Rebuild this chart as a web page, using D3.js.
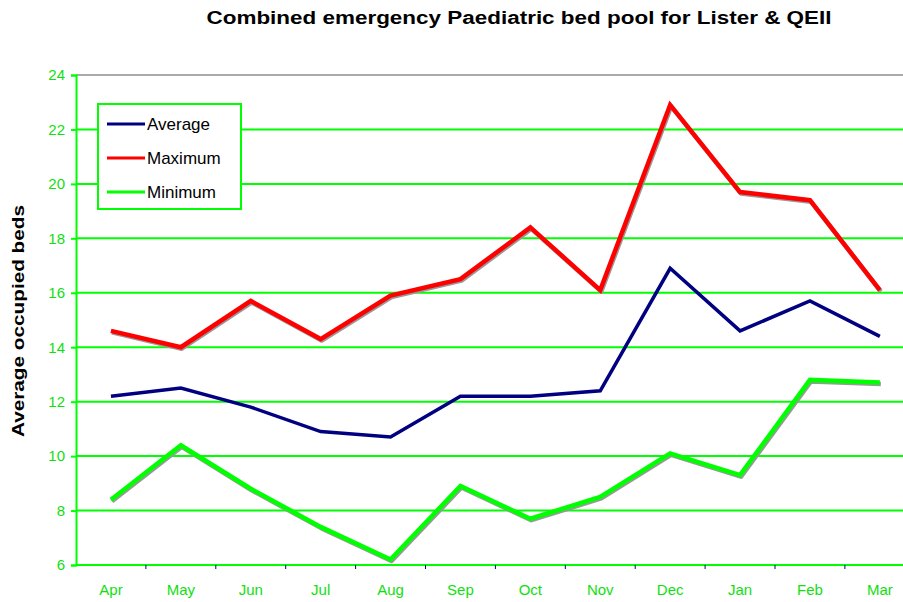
<!DOCTYPE html>
<html lang="en">
<head>
    <meta charset="UTF-8">
    <title>Combined emergency Paediatric bed pool</title>
    <style>
        body { margin: 0; background: #ffffff; }
        svg { display: block; font-family: Arial, "Liberation Sans", sans-serif; }
        .tick-label { fill: #10e010; font-size: 15px; }
    </style>
</head>
<body>
    <script src="https://d3js.org/d3.v7.min.js"></script>
    <script>
        const width = 903;
        const height = 602;

        const months = ["Apr", "May", "Jun", "Jul", "Aug", "Sep", "Oct", "Nov", "Dec", "Jan", "Feb", "Mar"];
        const average = [12.2, 12.5, 11.8, 10.9, 10.7, 12.2, 12.2, 12.4, 16.9, 14.6, 15.7, 14.4];
        const maximum = [14.6, 14.0, 15.7, 14.3, 15.9, 16.5, 18.4, 16.1, 22.9, 19.7, 19.4, 16.1];
        const minimum = [8.4, 10.4, 8.8, 7.4, 6.2, 8.9, 7.7, 8.5, 10.1, 9.3, 12.8, 12.7];
        const yTicks = [6, 8, 10, 12, 14, 16, 18, 20, 22, 24];

        const series = [
            { name: "Average", values: average, color: "#000080", width: 3.5, shadow: false },
            { name: "Maximum", values: maximum, color: "#ff0000", width: 4.5, shadow: true },
            { name: "Minimum", values: minimum, color: "#00ff00", width: 4.5, shadow: true }
        ];

        const plotLeft = 76, plotTop = 75, plotBottom = 565;

        const svg = d3.select("body").append("svg")
            .attr("width", width)
            .attr("height", height);

        const x = d3.scaleBand()
            .domain(months)
            .range([plotLeft, plotLeft + 12 * 69.9]);

        const y = d3.scaleLinear()
            .domain([6, 24])
            .range([plotBottom, plotTop]);

        // gridlines
        svg.append("g")
            .selectAll("line")
            .data(yTicks)
            .enter()
            .append("line")
            .attr("x1", plotLeft)
            .attr("x2", width)
            .attr("y1", d => y(d))
            .attr("y2", d => y(d))
            .style("stroke", d => d === 24 ? "#aaaaaa" : "#00ff00")
            .style("stroke-width", 2);

        // y axis
        const yAxis = svg.append("g")
            .attr("transform", `translate(${plotLeft},0)`)
            .call(d3.axisLeft(y).tickValues(yTicks).tickSize(5).tickPadding(6));
        yAxis.select(".domain").style("stroke", "#00ff00").style("stroke-width", 2);
        yAxis.selectAll(".tick line").style("stroke", "#00ff00").style("stroke-width", 2);
        yAxis.selectAll(".tick text").attr("class", "tick-label").attr("font-family", null).attr("font-size", null);

        // x axis
        const xAxis = svg.append("g")
            .attr("transform", `translate(0,${plotBottom})`)
            .call(d3.axisBottom(x).tickSize(0).tickPadding(19));
        xAxis.select(".domain").remove();
        xAxis.selectAll(".tick text").attr("class", "tick-label").attr("font-family", null).attr("font-size", null);

        svg.append("line")
            .attr("x1", plotLeft).attr("x2", width)
            .attr("y1", plotBottom).attr("y2", plotBottom)
            .style("stroke", "#00ff00").style("stroke-width", 2);

        svg.append("g")
            .selectAll("line")
            .data(months.slice(1))
            .enter()
            .append("line")
            .attr("x1", d => x(d)).attr("x2", d => x(d))
            .attr("y1", plotBottom).attr("y2", plotBottom + 4)
            .style("stroke", "#000080")
            .style("stroke-width", 1);

        // lines
        const line = d3.line()
            .x((d, i) => x(months[i]) + x.bandwidth() / 2)
            .y(d => y(d));

        series.forEach(s => {
            if (s.shadow) {
                svg.append("path")
                    .datum(s.values)
                    .attr("d", line)
                    .attr("transform", "translate(1,1.5)")
                    .style("fill", "none")
                    .style("stroke", "#999999")
                    .style("stroke-width", s.width)
                    .style("stroke-linejoin", "round");
            }
            svg.append("path")
                .datum(s.values)
                .attr("d", line)
                .style("fill", "none")
                .style("stroke", s.color)
                .style("stroke-width", s.width)
                .style("stroke-linejoin", "miter");
        });

        // legend
        const legend = svg.append("g");
        legend.append("rect")
            .attr("x", 98).attr("y", 104)
            .attr("width", 143).attr("height", 105)
            .style("fill", "#ffffff")
            .style("stroke", "#00ff00")
            .style("stroke-width", 2);

        const rowY = [124, 158, 192];
        series.forEach((s, i) => {
            legend.append("line")
                .attr("x1", 107).attr("x2", 145)
                .attr("y1", rowY[i]).attr("y2", rowY[i])
                .style("stroke", s.color)
                .style("stroke-width", 3);
            legend.append("text")
                .attr("x", 147)
                .attr("y", rowY[i] + 6)
                .style("font-size", "17px")
                .style("fill", "#000000")
                .text(s.name);
        });

        // title
        svg.append("text")
            .attr("x", 519)
            .attr("y", 24)
            .attr("text-anchor", "middle")
            .attr("textLength", 625)
            .attr("lengthAdjust", "spacingAndGlyphs")
            .style("font-size", "18px")
            .style("font-weight", "bold")
            .style("fill", "#000000")
            .text("Combined emergency Paediatric bed pool for Lister & QEII");

        // y axis title
        svg.append("text")
            .attr("transform", "translate(24,321) rotate(-90)")
            .attr("text-anchor", "middle")
            .attr("textLength", 232)
            .attr("lengthAdjust", "spacingAndGlyphs")
            .style("font-size", "17px")
            .style("font-weight", "bold")
            .style("fill", "#000000")
            .text("Average occupied beds");
    </script>
</body>
</html>
